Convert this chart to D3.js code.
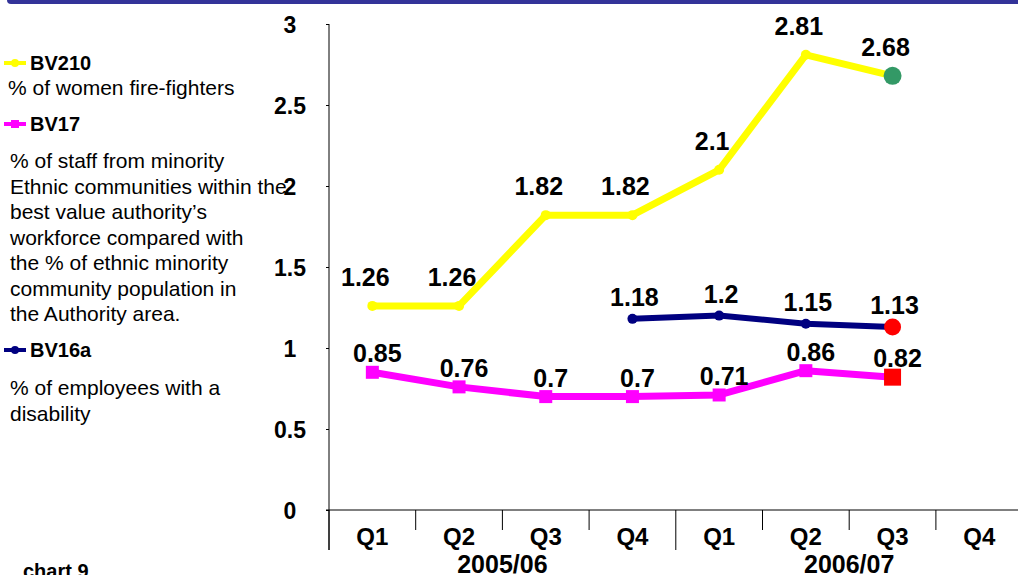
<!DOCTYPE html>
<html>
<head>
<meta charset="utf-8">
<script src="https://cdn.jsdelivr.net/npm/d3@7"></script>
<style>
  body { margin: 0; background: #fff; }
  svg { display: block; font-family: "Liberation Sans", Arial, sans-serif; }
</style>
</head>
<body>
<div id="chart"></div>
<script>
// quarters and financial years
const years = ["2005/06", "2006/07"];
const quarters = ["Q1", "Q2", "Q3", "Q4"];

// series values (null = no value)
const bv210 = [1.26, 1.26, 1.82, 1.82, 2.1, 2.81, 2.68, null];
const bv17 = [0.85, 0.76, 0.7, 0.7, 0.71, 0.86, 0.82, null];
const bv16a = [null, null, null, 1.18, 1.2, 1.15, 1.13, null];

const yTicks = [0, 0.5, 1, 1.5, 2, 2.5, 3];

const seriesNames = ["BV210", "BV17", "BV16a"];
const seriesNotes = [
    ["% of women fire-fighters"],
    ["% of staff from minority", "Ethnic communities within the", "best value authority\u2019s",
     "workforce compared with", "the % of ethnic minority", "community population in", "the Authority area."],
    ["% of employees with a", "disability"]
];

const svgWidth = 1018, svgHeight = 575;

const categories = [];
years.forEach(y => quarters.forEach(q => categories.push(y + " " + q)));

const svg = d3.select("#chart")
    .append("svg")
    .attr("width", svgWidth)
    .attr("height", svgHeight);

// top banner
svg.append("path")
    .attr("d", "M7,0 H1018 V4 H11 Q7,4 7,0 Z")
    .attr("fill", "#333399");

const x = d3.scaleBand()
    .domain(categories)
    .range([329, 329 + 8 * 86.7])
    .padding(0);

const y = d3.scaleLinear()
    .domain([0, 3])
    .range([510, 24]);

// y axis
const yAxis = svg.append("g")
    .attr("transform", "translate(329,0)")
    .call(d3.axisLeft(y).tickValues(yTicks).tickSize(3).tickSizeOuter(0).tickFormat(d3.format("~g")));
yAxis.select(".domain").remove();
yAxis.selectAll("line").attr("stroke", "#000");
yAxis.selectAll("text")
    .attr("x", -39)
    .attr("dy", "0.36em")
    .style("text-anchor", "middle")
    .style("font-size", "23px")
    .style("font-weight", "bold")
    .style("font-family", "Liberation Sans, Arial, sans-serif")
    .attr("fill", "#000");

svg.append("line")
    .attr("x1", 329).attr("x2", 329)
    .attr("y1", y(3)).attr("y2", 550)
    .attr("stroke", "#000").attr("stroke-width", 1);

// x axis line
svg.append("line")
    .attr("x1", 326).attr("x2", svgWidth)
    .attr("y1", y(0)).attr("y2", y(0))
    .attr("stroke", "#000").attr("stroke-width", 1);

// category separators
const bounds = categories.map(c => x(c)).concat([x(categories[categories.length - 1]) + x.bandwidth()]);
svg.append("g").selectAll("line")
    .data(bounds)
    .enter().append("line")
    .attr("x1", d => d).attr("x2", d => d)
    .attr("y1", y(0))
    .attr("y2", (d, i) => i % 4 === 0 ? 550 : 530)
    .attr("stroke", "#000")
    .attr("stroke-width", 1);

// quarter labels
svg.append("g").selectAll("text")
    .data(categories)
    .enter().append("text")
    .attr("x", d => x(d) + x.bandwidth() / 2)
    .attr("y", 545)
    .attr("text-anchor", "middle")
    .style("font-size", "24px")
    .style("font-weight", "bold")
    .text(d => d.split(" ")[1]);

// year labels
svg.append("g").selectAll("text")
    .data(years)
    .enter().append("text")
    .attr("x", d => x(d + " Q1") + 2 * x.bandwidth())
    .attr("y", 573)
    .attr("text-anchor", "middle")
    .style("font-size", "25px")
    .style("font-weight", "bold")
    .text(d => d);

const series = [
    { values: bv210, color: "#FFFF00", width: 7, shape: "circle", size: 5, last: "#339966", lastSize: 9, dx: -7, dy: -20 },
    { values: bv16a, color: "#000080", width: 6, shape: "circle", size: 5, last: "#FF0000", lastSize: 8.5, dx: 2, dy: -13 },
    { values: bv17, color: "#FF00FF", width: 7, shape: "square", size: 6.5, last: "#FF0000", lastSize: 8.5, dx: 5, dy: -10 }
];

const line = d3.line()
    .defined(d => d.v !== null)
    .x(d => x(d.c) + x.bandwidth() / 2)
    .y(d => y(d.v));

function drawMarker(g, cx, cy, shape, r, color) {
    if (shape === "circle") {
        g.append("circle").attr("cx", cx).attr("cy", cy).attr("r", r).attr("fill", color);
    } else {
        g.append("rect").attr("x", cx - r).attr("y", cy - r)
            .attr("width", 2 * r).attr("height", 2 * r).attr("fill", color);
    }
}

series.forEach(s => {
    const pts = s.values.map((v, i) => ({ c: categories[i], v: v }));
    const g = svg.append("g");
    g.append("path")
        .datum(pts)
        .attr("d", line)
        .attr("fill", "none")
        .attr("stroke", s.color)
        .attr("stroke-width", s.width)
        .attr("stroke-linejoin", "round");
    const valid = pts.filter(d => d.v !== null);
    valid.forEach((d, i) => {
        const cx = x(d.c) + x.bandwidth() / 2, cy = y(d.v);
        const isLast = i === valid.length - 1;
        drawMarker(g, cx, cy, s.shape, isLast ? s.lastSize : s.size, isLast ? s.last : s.color);
    });
    g.selectAll("text.lbl")
        .data(valid)
        .enter().append("text")
        .attr("class", "lbl")
        .attr("x", d => x(d.c) + x.bandwidth() / 2 + s.dx)
        .attr("y", d => y(d.v) + s.dy)
        .attr("text-anchor", "middle")
        .style("font-size", "25px")
        .style("font-weight", "bold")
        .text(d => d3.format("~g")(d.v));
});

// legend
const legendColors = ["#FFFF00", "#FF00FF", "#000080"];
const legendShapes = ["circle", "square", "circle"];
const legendY = [63, 124, 350];
const noteY = [95, 168, 395];
const legend = svg.append("g");
seriesNames.forEach((name, i) => {
    legend.append("line")
        .attr("x1", 4).attr("x2", 26)
        .attr("y1", legendY[i]).attr("y2", legendY[i])
        .attr("stroke", legendColors[i]).attr("stroke-width", 4);
    drawMarker(legend, 15, legendY[i], legendShapes[i], 4, legendColors[i]);
    legend.append("text")
        .attr("x", 30).attr("y", legendY[i] + 7)
        .style("font-size", "20px")
        .style("font-weight", "bold")
        .text(name);
    legend.append("g").selectAll("text")
        .data(seriesNotes[i])
        .enter().append("text")
        .attr("x", i === 0 ? 8 : 10)
        .attr("y", (d, j) => noteY[i] + j * 25.5)
        .style("font-size", "21px")
        .text(d => d);
});

svg.append("text")
    .attr("x", 23).attr("y", 578)
    .style("font-size", "20px")
    .style("font-weight", "bold")
    .text("chart 9");
</script>
</body>
</html>
